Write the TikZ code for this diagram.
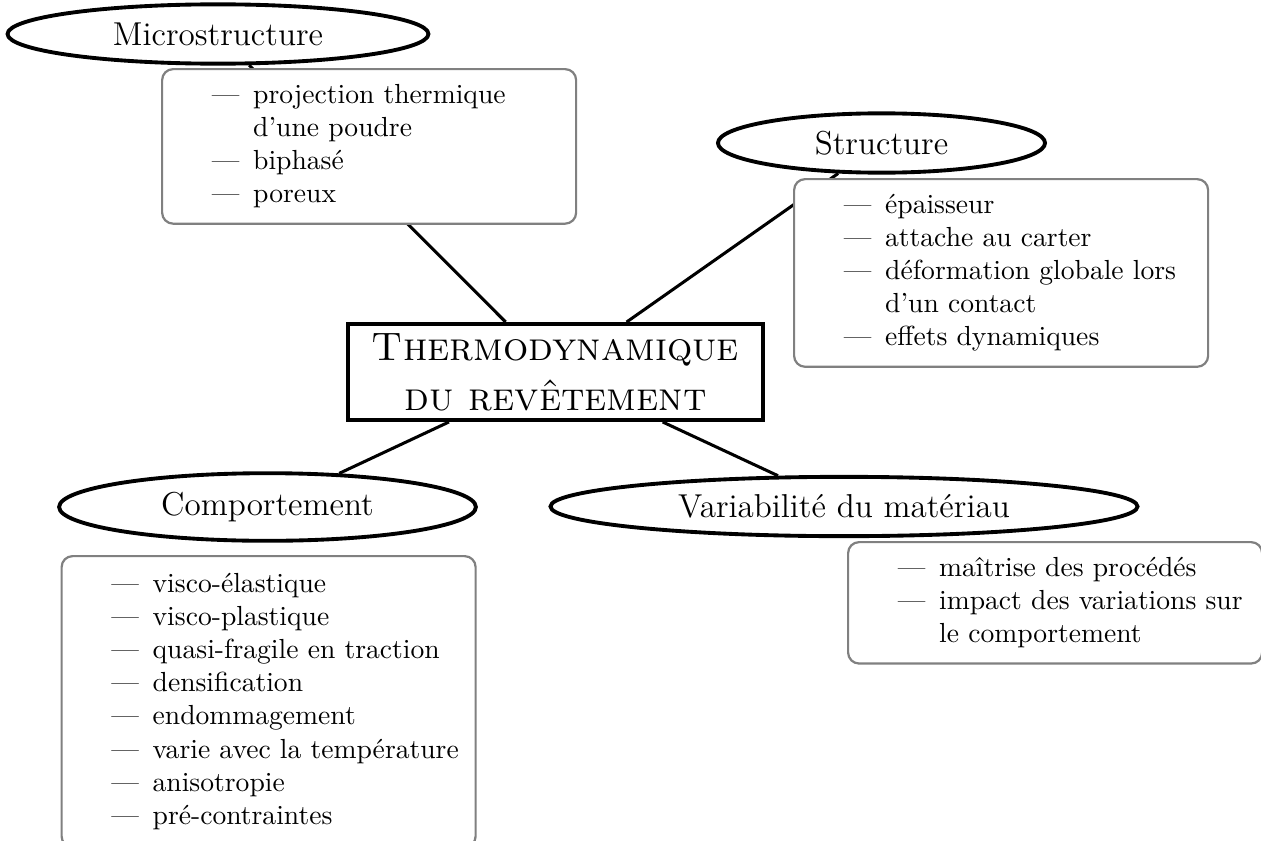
\documentclass[tikz,border=0pt]{standalone}
\usepackage{fontspec}
\usepackage{tikz}
\usetikzlibrary{shapes.geometric}

\begin{document}
\begin{tikzpicture}[x=0.3623pt, y=-0.3623pt,
  theme/.style={draw, ellipse, line width=1.4pt, inner sep=0pt, font=\large},
  liste/.style={draw=gray, line width=0.8pt, fill=white, rounded corners=4pt,
    anchor=north west, text width=150pt, inner xsep=0pt, inner ysep=4pt, align=left},
  lien/.style={line width=1.1pt}]
\useasboundingbox (0,0) rectangle (1261,841);
\clip (0,0) rectangle (1261,841);

% noeud central
\node[draw, line width=1.4pt, minimum width=150.4pt, minimum height=34.8pt,
  inner sep=2pt, align=center, font=\Large\scshape] (th) at (555.5,372)
  {Thermodynamique\\du revêtement};

% les quatre themes
\node[theme, minimum width=152.5pt, minimum height=21.5pt] (micro) at (218,34) {Microstructure};
\node[theme, minimum width=118.5pt, minimum height=21.5pt] (struct) at (881.5,143) {Structure};
\node[theme, minimum width=151pt, minimum height=24.5pt] (comp) at (267.5,507) {Comportement};
\node[theme, minimum width=212.7pt, minimum height=21.5pt] (var) at (844,506.5) {Variabilité du matériau};

\draw[lien] (th) -- (micro);
\draw[lien] (th) -- (struct);
\draw[lien] (th) -- (comp);
\draw[lien] (th) -- (var);

% listes
\node[liste] (microliste) at (161,68) {\noindent\begin{tabular}{@{\hspace{18pt}}l@{\hspace{5pt}}l@{}}
--- & projection thermique\\
    & d'une poudre\\
--- & biphasé\\
--- & poreux
\end{tabular}};

\node[liste] (structliste) at (793,178) {\noindent\begin{tabular}{@{\hspace{18pt}}l@{\hspace{5pt}}l@{}}
--- & épaisseur\\
--- & attache au carter\\
--- & déformation globale lors\\
    & d'un contact\\
--- & effets dynamiques
\end{tabular}};

\node[liste, minimum height=105.5pt] (compliste) at (60.5,555) {\noindent\begin{tabular}{@{\hspace{18pt}}l@{\hspace{5pt}}l@{}}
--- & visco-élastique\\
--- & visco-plastique\\
--- & quasi-fragile en traction\\
--- & densification\\
--- & endommagement\\
--- & varie avec la température\\
--- & anisotropie\\
--- & pré-contraintes
\end{tabular}};

\node[liste] (varliste) at (847,541) {\noindent\begin{tabular}{@{\hspace{18pt}}l@{\hspace{5pt}}l@{}}
--- & maîtrise des procédés\\
--- & impact des variations sur\\
    & le comportement
\end{tabular}};

\end{tikzpicture}
\end{document}
